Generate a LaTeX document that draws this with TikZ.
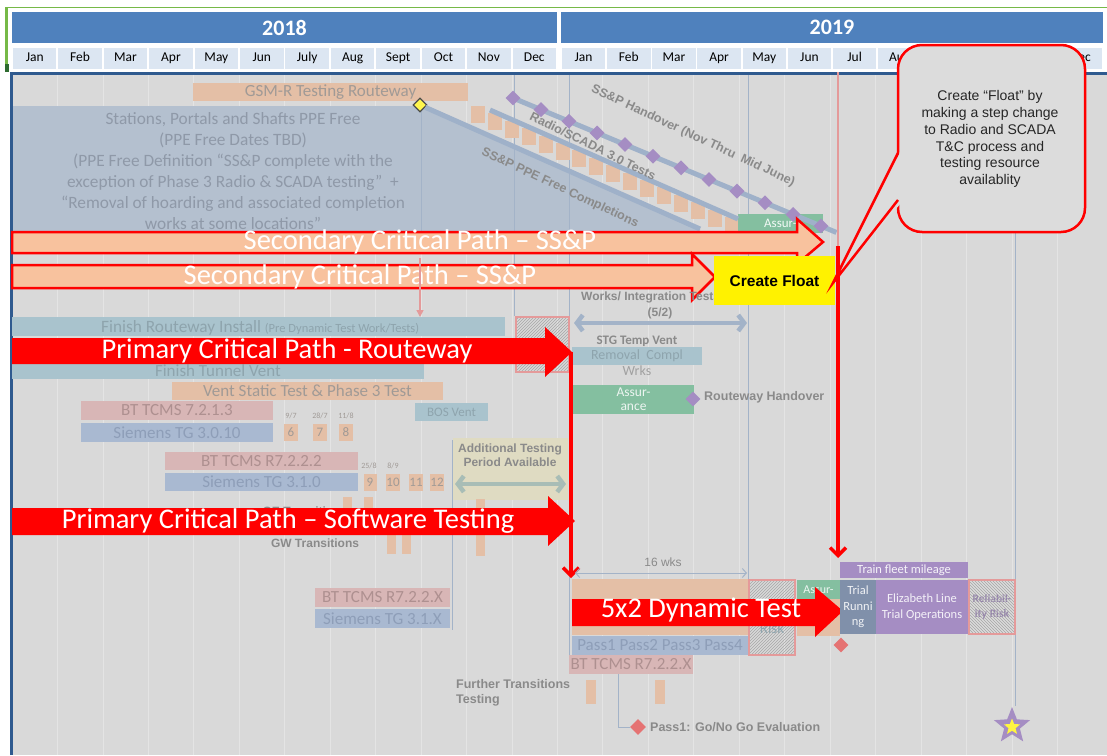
\documentclass[tikz,border=0pt]{standalone}
\usepackage{fontspec}
\setmainfont{Carlito}
\newfontfamily\arial{Liberation Sans}
\usetikzlibrary{patterns,arrows.meta,shapes.geometric,calc}
\definecolor{panel}{HTML}{D9D9D9}
\definecolor{yearblue}{HTML}{4F81BD}
\definecolor{monthbg}{HTML}{DCE6F2}
\definecolor{frame}{HTML}{2F5A8F}
\definecolor{gridc}{HTML}{E4E4E4}
\definecolor{strong}{HTML}{A3B3C8}
\definecolor{ppe}{HTML}{B4C0CF}
\definecolor{ppetext}{HTML}{8F99A8}
\definecolor{obar}{HTML}{E4BFA6}
\definecolor{otext}{HTML}{A09A96}
\definecolor{bbar}{HTML}{A9B9D1}
\definecolor{btext}{HTML}{8E9EB8}
\definecolor{pbar}{HTML}{D8B6B6}
\definecolor{ptext}{HTML}{AE9090}
\definecolor{tbar}{HTML}{A9C3CD}
\definecolor{ttext}{HTML}{8EA4AD}
\definecolor{gbox}{HTML}{84BFA0}
\definecolor{purp}{HTML}{A58DC3}
\definecolor{slate}{HTML}{8090AA}
\definecolor{peach}{HTML}{F8C29E}
\definecolor{glabel}{HTML}{8A8A8A}
\definecolor{pinkline}{HTML}{E49A9A}
\definecolor{rdia}{HTML}{E57373}
\definecolor{addl}{HTML}{DFDBC2}
\definecolor{addarrow}{HTML}{A8BDB6}
\definecolor{diagc}{HTML}{9FB1C9}
\definecolor{ygreen}{HTML}{76B947}
\definecolor{dgreen}{HTML}{2E6B30}
\definecolor{calloutbg}{HTML}{DCDCDC}
\newcommand\gb[7]{\node[bar,#6,minimum width={(#4)-(#2)},minimum height={(#5)-(#3)}] (#1) at ({((#2)+(#4))/2},{((#3)+(#5))/2}) {#7};}
\begin{document}
\begin{tikzpicture}[x=1pt,y=-1pt,
  bar/.style={inner sep=0pt, outer sep=0pt, align=center, font=\fontsize{17}{18}\selectfont},
  yearbox/.style={fill=yearblue, text=white, inner sep=0pt, font=\bfseries\fontsize{22}{24}\selectfont},
  monthbox/.style={fill=monthbg, inner sep=0pt, minimum width=43.5, minimum height=21, text height=9.5, text depth=3, font=\fontsize{13.5}{15}\selectfont},
  lbl/.style={inner sep=0pt, font=\arial\bfseries\fontsize{12}{14.5}\selectfont, text=glabel, align=center},
  tinylbl/.style={inner sep=0pt, font=\fontsize{8}{9}\selectfont, text=otext},
  nbox/.style={fill=obar, inner sep=0pt, minimum width=14, minimum height=17, text=otext, font=\fontsize{13}{14}\selectfont},
  pdia/.style={diamond, fill=purp, inner sep=0pt, minimum size=15},
  rdiam/.style={diamond, fill=rdia, inner sep=0pt, minimum size=16},
  arrtext/.style={inner sep=0pt, text=white, font=\fontsize{28.5}{30}\selectfont},
  peacharr/.style={fill=peach, draw=red, line width=2.5pt, line join=miter},
  redarr/.style={fill=red},
  diag/.style={diagc, line width=5pt},
  hatch/.style={pattern=north east lines, pattern color=gray!70, draw=pinkline, line width=2.5pt},
  redv/.style={red, line width=3.5pt, -{Straight Barb[length=8pt,width=16pt]}},
  dblarr/.style={line width=4.5pt, {Straight Barb[length=6pt,width=16pt]}-{Straight Barb[length=6pt,width=16pt]}},
  difflabel/.style={inner sep=0pt, font=\arial\bfseries\fontsize{12.5}{14}\selectfont, text=glabel}
]
\useasboundingbox (0,0) rectangle (1107,755);
\fill[white] (0,0) rectangle (1107,755);
% ---------------- header
\draw[ygreen, line width=1.2pt] (5,7.5) -- (1107,7.5);
\fill[ygreen] (4.5,7) rectangle (8,64);
\fill[dgreen] (4.5,64) rectangle (9,72);
\node[yearbox, minimum width=545, minimum height=31] (y2018) at (284.5,27.5) {2018};
\node[yearbox, minimum width=542, minimum height=31] (y2019) at (832,27.5) {2019};
\foreach \m [count=\i from 0] in {Jan,Feb,Mar,Apr,May,Jun,July,Aug,Sept,Oct,Nov,Dec}
  \node[monthbox] (ma\i) at ({12+45.42*\i+22.71},58.5) {\m};
\foreach \m [count=\i from 0] in {Jan,Feb,Mar,Apr,May,Jun,Jul,Aug,Sep,Oct,Nov,Dec}
  \node[monthbox] (mb\i) at ({561+45.17*\i+22.58},58.5) {\m};
% ---------------- panel
\fill[panel] (10,72) rectangle (1107,755);
\foreach \k in {1,...,23} \draw[gridc, line width=0.8pt] ({12+45.45*\k},75) -- ++(0,680);
\draw[frame, line width=3pt] (11.5,755) -- (11.5,73.5) -- (1107,73.5);
% ---------------- star and its line (drawn early, below callout)
\node[star, star points=5, star point ratio=2.3, fill=purp, inner sep=0pt, minimum size=38] (star) at (1012,726) {};
\node[star, star points=5, star point ratio=2.3, fill=yellow!75!white, inner sep=0pt, minimum size=17] (stari) at (1012,727) {};
\coordinate (stl) at (1015,75);
\draw[strong, line width=1pt] (stl) -- (star.north -| stl);
% ---------------- PPE region
\fill[ppe] (13,106) -- (420,106) -- (700,229) -- (700,253) -- (13,253) -- cycle;
\draw[strong, line width=1pt] (421,106) -- (421,232);
\draw[strong, line width=1pt] (514,75) -- (514,316);
\draw[strong, line width=1pt] (569,75) -- (569,660);
\draw[strong, line width=1pt] (748,75) -- (748,580);
\draw[strong, line width=1pt] (452,440) -- (452,630);
\node[bar, font=\fontsize{17.3}{21}\selectfont, text=ppetext] (ppetxt) at (233,171)
 {Stations, Portals and Shafts PPE Free\\(PPE Free Dates TBD)\\(PPE Free Definition “SS\&P complete with the\\exception of Phase 3 Radio \& SCADA testing”~ +\\“Removal of hoarding and associated completion\\works at some locations”};
\gb{gsm}{193}{83}{468}{101}{fill=obar, text=otext}{GSM-R Testing Routeway}
% staircase
\foreach \i in {0,...,15} \fill[obar] ({471+16.9*\i},{106+7.4*\i}) rectangle ++(14,17);
\gb{assur1}{738}{214}{823}{233}{fill=gbox, text=white!90!gbox, font=\fontsize{13}{14}\selectfont}{Assur-}
% diagonal lines
\node[diamond, fill=yellow!70!white, draw=gray!60!black, line width=1.2pt, inner sep=0pt, minimum size=14] (ydia) at (420,105) {};
\coordinate (ppeEnd) at (700,229);
\coordinate (radS) at (490,110);
\coordinate (radE) at (738,219);
\draw[diag] (ydia) -- (ppeEnd);
\draw[diag] (radS) -- (radE);
\foreach \t in {0,...,11} \coordinate (hp\t) at ({513+28*\t},{98+11.64*\t});
\draw[diag] (hp0) -- ($(hp11)!-0.05!(hp0)$);
\foreach \t in {0,...,11} \node[pdia] (hd\t) at (hp\t) {};
\node[difflabel, rotate=-25] (hotxt) at (693,136) {SS\&P Handover (Nov Thru~ Mid June)};
\node[difflabel, rotate=-26.5] (radtxt) at (593,146) {Radio/SCADA 3.0 Tests};
\node[difflabel, rotate=-25] (ppectxt) at (560,188) {SS\&P PPE Free Completions};
% ---------------- secondary arrows
\draw[peacharr] (12,232) -- (797,232) -- (797,219) -- (823,242) -- (797,264) -- (797,253) -- (12,253) -- cycle;
\node[arrtext] (sec1) at (420,242) {Secondary Critical Path – SS\&P};
\draw[peacharr] (12,265) -- (692,265) -- (692,254) -- (715,277) -- (692,300) -- (692,288) -- (12,288) -- cycle;
\node[arrtext] (sec2) at (360,277) {Secondary Critical Path – SS\&P};
% pink small arrow
\coordinate (pinkS) at (420,258);
\coordinate (pinkE) at (420,317);
\draw[pinkline, line width=1.5pt, -{Triangle[length=7pt,width=7pt]}] (pinkS) -- (pinkE);
% works / integration
\node[lbl, anchor=west] (works) at (581,297) {Works/ Integration Tests};
\node[lbl] (w52) at (660,313) {(5/2)};
\coordinate (wkS) at (574,323);
\coordinate (wkE) at (747,323);
\draw[dblarr, strong] (wkS) -- (wkE);
% create float box
\gb{cfloat}{714}{256}{835}{305}{fill=yellow, text=black, font=\arial\bfseries\fontsize{15.5}{17}\selectfont}{Create Float}
% red vertical at Jul 2019
\coordinate (jt) at (838,72);
\coordinate (jm) at (838,246);
\coordinate (je) at (838,558);
\draw[pinkline, line width=2pt] (jt) -- (jm);
\draw[redv] (jm) -- (je);
% callout
\node[draw=red, line width=2.5pt, fill=calloutbg, rounded corners=24pt, minimum width=187, minimum height=187, inner sep=0pt] (callout) at (991.5,138.5) {};
\coordinate (ctip) at (833,283);
\fill[calloutbg] (901,150) -- (ctip) -- (901,203) -- cycle;
\draw[red, line width=2.5pt, line join=miter] (898,153) -- (ctip) -- (898,200);
\node[inner sep=0pt, align=center, font=\arial\fontsize{14}{16.8}\selectfont, text=black!85] (ctext) at (990,139)
 {Create “Float” by\\making a step change\\to Radio and SCADA\\T\&C process and\\testing resource\\availablity};
% ---------------- routeway block
\gb{fri}{12}{317}{505}{336}{fill=tbar, text=ttext}{}
\node[inner sep=0pt, font=\fontsize{17.3}{18}\selectfont, text=ttext, anchor=base west] (fritxt) at (101,332) {Finish Routeway Install {\fontsize{12.5}{13}\selectfont(Pre Dynamic Test Work/Tests)}};
\draw[hatch] (516,317) rectangle (569,372);
\gb{ftv}{12}{363}{424}{379}{fill=tbar, text=ttext}{Finish Tunnel Vent}
\fill[redarr] (12,338) -- (545,338) -- (545,327) -- (572,352) -- (545,377) -- (545,364) -- (12,364) -- cycle;
\node[arrtext] (prr) at (287,351) {Primary Critical Path - Routeway};
\gb{vst}{172}{382}{443}{400}{fill=obar, text=otext}{Vent Static Test \& Phase 3 Test}
\gb{bt1}{81}{401}{273}{420}{fill=pbar, text=ptext}{BT TCMS 7.2.1.3}
\gb{sg1}{81}{423}{273}{442}{fill=bbar, text=btext}{Siemens TG 3.0.10}
\node[nbox] (n6) at (291,432) {6};
\node[nbox] (n7) at (320,432) {7};
\node[nbox] (n8) at (346,432) {8};
\node[tinylbl] (l6) at (291,416) {9/7};
\node[tinylbl] (l7) at (320,416) {28/7};
\node[tinylbl] (l8) at (346,416) {11/8};
\gb{bos}{415}{403}{488}{421}{fill=tbar, text=ttext, font=\fontsize{13}{14}\selectfont}{BOS Vent}
% STG / assurance
\gb{stg}{572}{347}{702}{365}{fill=tbar}{}
\node[inner sep=0pt, font=\bfseries\fontsize{13}{14}\selectfont, text=glabel] (stg1) at (637,341) {STG Temp Vent};
\node[inner sep=0pt, font=\fontsize{14}{15}\selectfont, text=ttext] (stg2) at (637,356) {Removal~~Compl};
\node[inner sep=0pt, font=\fontsize{14}{15}\selectfont, text=glabel!80] (stg3) at (637,371) {Wrks};
\gb{assur2}{573}{385}{694}{414}{fill=gbox, text=white!85!gbox, font=\fontsize{13.5}{14}\selectfont}{Assur-\\ance}
\node[pdia] (rhd) at (693,399) {};
\node[lbl, anchor=west, font=\arial\bfseries\fontsize{12.5}{14}\selectfont] (rhtxt) at (704,397) {Routeway Handover};
% ---------------- software testing block
\fill[addl] (453,438) rectangle (568,500);
\node[lbl] (addtxt) at (510,455) {Additional Testing\\Period Available};
\coordinate (adS) at (455,484);
\coordinate (adE) at (566,484);
\draw[dblarr, addarrow] (adS) -- (adE);
\gb{bt2}{165}{452}{358}{470}{fill=pbar, text=ptext}{BT TCMS R7.2.2.2}
\gb{sg2}{165}{473}{358}{491}{fill=bbar, text=btext}{Siemens TG 3.1.0}
\node[nbox, minimum width=13] (n9) at (370,482) {9};
\node[nbox, minimum width=13] (n10) at (393,482) {10};
\node[nbox, minimum width=13] (n11) at (416,482) {11};
\node[nbox, minimum width=13] (n12) at (437,482) {12};
\node[tinylbl] (l9) at (369,466) {25/8};
\node[tinylbl] (l10) at (393,466) {8/9};
\fill[obar] (343,497) rectangle (352,512);
\fill[obar] (364,497) rectangle (373,512);
\fill[obar] (387,530) rectangle (396,554);
\fill[obar] (402,530) rectangle (411,554);
\fill[obar] (476,499) rectangle (485,556);
\node[lbl] (getxt) at (305,511) {GE Transitions};
\node[lbl] (gwtxt) at (315,543) {GW Transitions};
\fill[redarr] (12,508) -- (548,508) -- (548,496) -- (575,521) -- (548,546) -- (548,535) -- (12,535) -- cycle;
\node[arrtext] (prs) at (288,521) {Primary Critical Path – Software Testing};
\coordinate (rvS) at (571,352);
\coordinate (rvE) at (571,578);
\draw[redv] (rvS) -- (rvE);
% ---------------- dynamic test block
\gb{bt3}{315}{588}{450}{607}{fill=pbar, text=ptext}{BT TCMS R7.2.2.X}
\gb{sg3}{315}{609}{450}{628}{fill=bbar, text=btext}{Siemens TG 3.1.X}
\node[inner sep=0pt, font=\arial\fontsize{12}{13}\selectfont, text=glabel] (wks) at (663,562) {16 wks};
\coordinate (wkaS) at (575,573);
\coordinate (wkaE) at (747,573);
\draw[strong, line width=1pt, {Straight Barb[length=4pt,width=9pt]}-{Straight Barb[length=4pt,width=9pt]}] (wkaS) -- (wkaE);
\fill[obar] (572,579) rectangle (748,635);
\fill[obar] (797,599) rectangle (840,636);
\gb{assur3}{797}{580}{840}{599}{fill=gbox, text=white!85!gbox, font=\fontsize{12}{13}\selectfont}{Assur-}
\draw[hatch] (749,580) rectangle (795,655);
\node[inner sep=0pt, font=\fontsize{15}{16}\selectfont, text=ttext] (risk) at (772,628) {Risk};
\fill[redarr] (572,599) -- (815,599) -- (815,587) -- (843,611) -- (815,637) -- (815,626) -- (572,626) -- cycle;
\node[arrtext] (dyn) at (701,610) {5x2 Dynamic Test};
\gb{pass}{572}{636}{748}{655}{fill=bbar, text=btext}{Pass1 Pass2 Pass3 Pass4}
\gb{bt4}{569}{655}{693}{674}{fill=pbar, text=ptext}{BT TCMS R7.2.2.X}
\node[lbl, anchor=west, align=left, font=\arial\bfseries\fontsize{12.5}{15}\selectfont] (further) at (456,693) {Further Transitions\\Testing};
\fill[obar] (586,680) rectangle (596,704);
\fill[obar] (655,680) rectangle (665,704);
\node[rdiam] (gng) at (638,727) {};
\coordinate (gngS) at (618,674);
\draw[strong, line width=1pt] (gngS) |- (gng);
\node[lbl, anchor=west, font=\arial\bfseries\fontsize{12.5}{14}\selectfont] (gngtxt) at (650,727) {Pass1: Go/No Go Evaluation};
% ---------------- right cluster
\gb{tfm}{840}{562}{968}{578}{fill=purp, text=white!90!purp, font=\fontsize{12.5}{13}\selectfont}{Train fleet mileage}
\gb{trun}{840}{580}{876}{634}{fill=slate, text=white!88!slate, font=\fontsize{12.5}{15.5}\selectfont}{Trial\\Runni\\ng}
\gb{elto}{876}{580}{968}{634}{fill=purp, text=white!88!purp, font=\fontsize{12.5}{15.5}\selectfont}{Elizabeth Line\\Trial Operations}
\gb{rrisk}{969}{580}{1015}{634}{fill=calloutbg, text=purp!90!black, font=\bfseries\fontsize{11.5}{15}\selectfont}{Reliabil-\\ity Risk}
\draw[hatch, pattern=north west lines] (969,580) rectangle (1015,634);
\node[rdiam, minimum size=15] (trd) at (841,645) {};
\end{tikzpicture}
\end{document}
